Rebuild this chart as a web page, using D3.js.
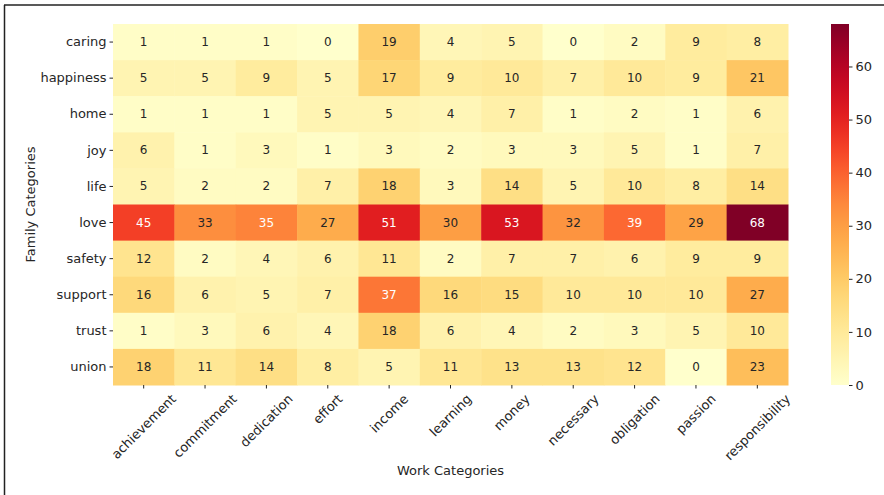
<!DOCTYPE html>
<html>
<head>
<meta charset="utf-8">
<script src="https://cdn.jsdelivr.net/npm/d3@7"></script>
<style>
  body { margin: 0; background: #fff; }
  text { font-family: "DejaVu Sans", sans-serif; fill: #262626; }
</style>
</head>
<body>
<div id="chart"></div>
<script>
// Heatmap data: rows = family categories, cols = work categories.
var familyCats = ['caring', 'happiness', 'home', 'joy', 'life', 'love', 'safety', 'support', 'trust', 'union'];
var workCats = ['achievement', 'commitment', 'dedication', 'effort', 'income', 'learning', 'money', 'necessary', 'obligation', 'passion', 'responsibility'];
var counts = [
    [1, 1, 1, 0, 19, 4, 5, 0, 2, 9, 8],
    [5, 5, 9, 5, 17, 9, 10, 7, 10, 9, 21],
    [1, 1, 1, 5, 5, 4, 7, 1, 2, 1, 6],
    [6, 1, 3, 1, 3, 2, 3, 3, 5, 1, 7],
    [5, 2, 2, 7, 18, 3, 14, 5, 10, 8, 14],
    [45, 33, 35, 27, 51, 30, 53, 32, 39, 29, 68],
    [12, 2, 4, 6, 11, 2, 7, 7, 6, 9, 9],
    [16, 6, 5, 7, 37, 16, 15, 10, 10, 10, 27],
    [1, 3, 6, 4, 18, 6, 4, 2, 3, 5, 10],
    [18, 11, 14, 8, 5, 11, 13, 13, 12, 0, 23]
];
var colorbarTicks = [0, 10, 20, 30, 40, 50, 60];

var W = 884, H = 495;
var plot = { left: 113, top: 24, right: 788, bottom: 385 };
var cbar = { left: 831, right: 849 };

var svg = d3.select('#chart').append('svg')
    .attr('width', W)
    .attr('height', H);

// Frame lines (top and left only are visible in the source).
svg.append('line').attr('x1', 4).attr('x2', W).attr('y1', 5).attr('y2', 5)
    .attr('stroke', '#222').attr('stroke-width', 1.5);
svg.append('line').attr('x1', 4.5).attr('x2', 4.5).attr('y1', 5).attr('y2', H)
    .attr('stroke', '#222').attr('stroke-width', 1.5);

var x = d3.scaleBand().domain(workCats).range([plot.left, plot.right]);
var y = d3.scaleBand().domain(familyCats).range([plot.top, plot.bottom]);
var vmax = d3.max(counts, r => d3.max(r));
var color = d3.scaleSequential(d3.interpolateYlOrRd).domain([0, vmax]);

var cells = [];
familyCats.forEach(function(f, i) {
    workCats.forEach(function(w, j) {
        cells.push({ row: f, col: w, value: counts[i][j] });
    });
});

var g = svg.append('g');
g.selectAll('rect.cell')
    .data(cells)
    .enter()
    .append('rect')
    .attr('class', 'cell')
    .attr('x', d => x(d.col))
    .attr('y', d => y(d.row))
    .attr('width', x.bandwidth() + 0.5)
    .attr('height', y.bandwidth() + 0.5)
    .attr('fill', d => color(d.value));

// Light text on dark cells (the source switches around 35).
function textColor(v) {
    return v >= 0.5 * vmax ? '#ffffff' : '#262626';
}

g.selectAll('text.annot')
    .data(cells)
    .enter()
    .append('text')
    .attr('class', 'annot')
    .attr('x', d => x(d.col) + x.bandwidth() / 2)
    .attr('y', d => y(d.row) + y.bandwidth() / 2)
    .attr('text-anchor', 'middle')
    .attr('dominant-baseline', 'central')
    .style('font-size', '12px')
    .style('fill', d => textColor(d.value))
    .text(d => d.value);

// Y axis.
var yAxis = svg.append('g')
    .attr('transform', 'translate(' + plot.left + ',0)')
    .call(d3.axisLeft(y).tickSize(3.5).tickPadding(3));
yAxis.select('.domain').remove();
yAxis.selectAll('line').attr('stroke', '#262626');
yAxis.selectAll('text').style('font-size', '13px').style('fill', '#262626');

// X axis with labels rotated 45deg, bbox centred on the tick.
var xAxis = svg.append('g')
    .attr('transform', 'translate(0,' + plot.bottom + ')')
    .call(d3.axisBottom(x).tickSize(3.5));
xAxis.select('.domain').remove();
xAxis.selectAll('line').attr('stroke', '#262626');
xAxis.selectAll('text')
    .style('font-size', '13px')
    .style('fill', '#262626')
    .attr('y', 0).attr('dy', null)
    .attr('text-anchor', 'middle')
    .attr('dominant-baseline', 'central')
    .attr('transform', function() {
        var L = this.getComputedTextLength();
        var off = (L + 13) * Math.SQRT1_2 / 2;
        return 'translate(0,' + (7 + off) + ') rotate(-45)';
    });

// Axis titles.
svg.append('text')
    .attr('x', (plot.left + plot.right) / 2)
    .attr('y', 470)
    .attr('text-anchor', 'middle')
    .attr('dominant-baseline', 'central')
    .style('font-size', '13px')
    .text('Work Categories');
svg.append('text')
    .attr('transform', 'translate(30,' + ((plot.top + plot.bottom) / 2) + ') rotate(-90)')
    .attr('text-anchor', 'middle')
    .attr('dominant-baseline', 'central')
    .style('font-size', '13px')
    .text('Family Categories');

// Colorbar.
var cy = d3.scaleLinear().domain([0, vmax]).range([plot.bottom, plot.top]);
var defs = svg.append('defs');
var grad = defs.append('linearGradient')
    .attr('id', 'cbgrad')
    .attr('x1', 0).attr('x2', 0).attr('y1', 1).attr('y2', 0);
d3.range(0, 1.0001, 0.05).forEach(function(t) {
    grad.append('stop')
        .attr('offset', t)
        .attr('stop-color', d3.interpolateYlOrRd(t));
});
svg.append('rect')
    .attr('x', cbar.left)
    .attr('y', plot.top)
    .attr('width', cbar.right - cbar.left)
    .attr('height', plot.bottom - plot.top)
    .attr('fill', 'url(#cbgrad)');

var cAxis = svg.append('g')
    .attr('transform', 'translate(' + cbar.right + ',0)')
    .call(d3.axisRight(cy).tickValues(colorbarTicks).tickSize(3.5).tickPadding(3));
cAxis.select('.domain').remove();
cAxis.selectAll('line').attr('stroke', '#262626');
cAxis.selectAll('text').style('font-size', '13px').style('fill', '#262626');
</script>
</body>
</html>
